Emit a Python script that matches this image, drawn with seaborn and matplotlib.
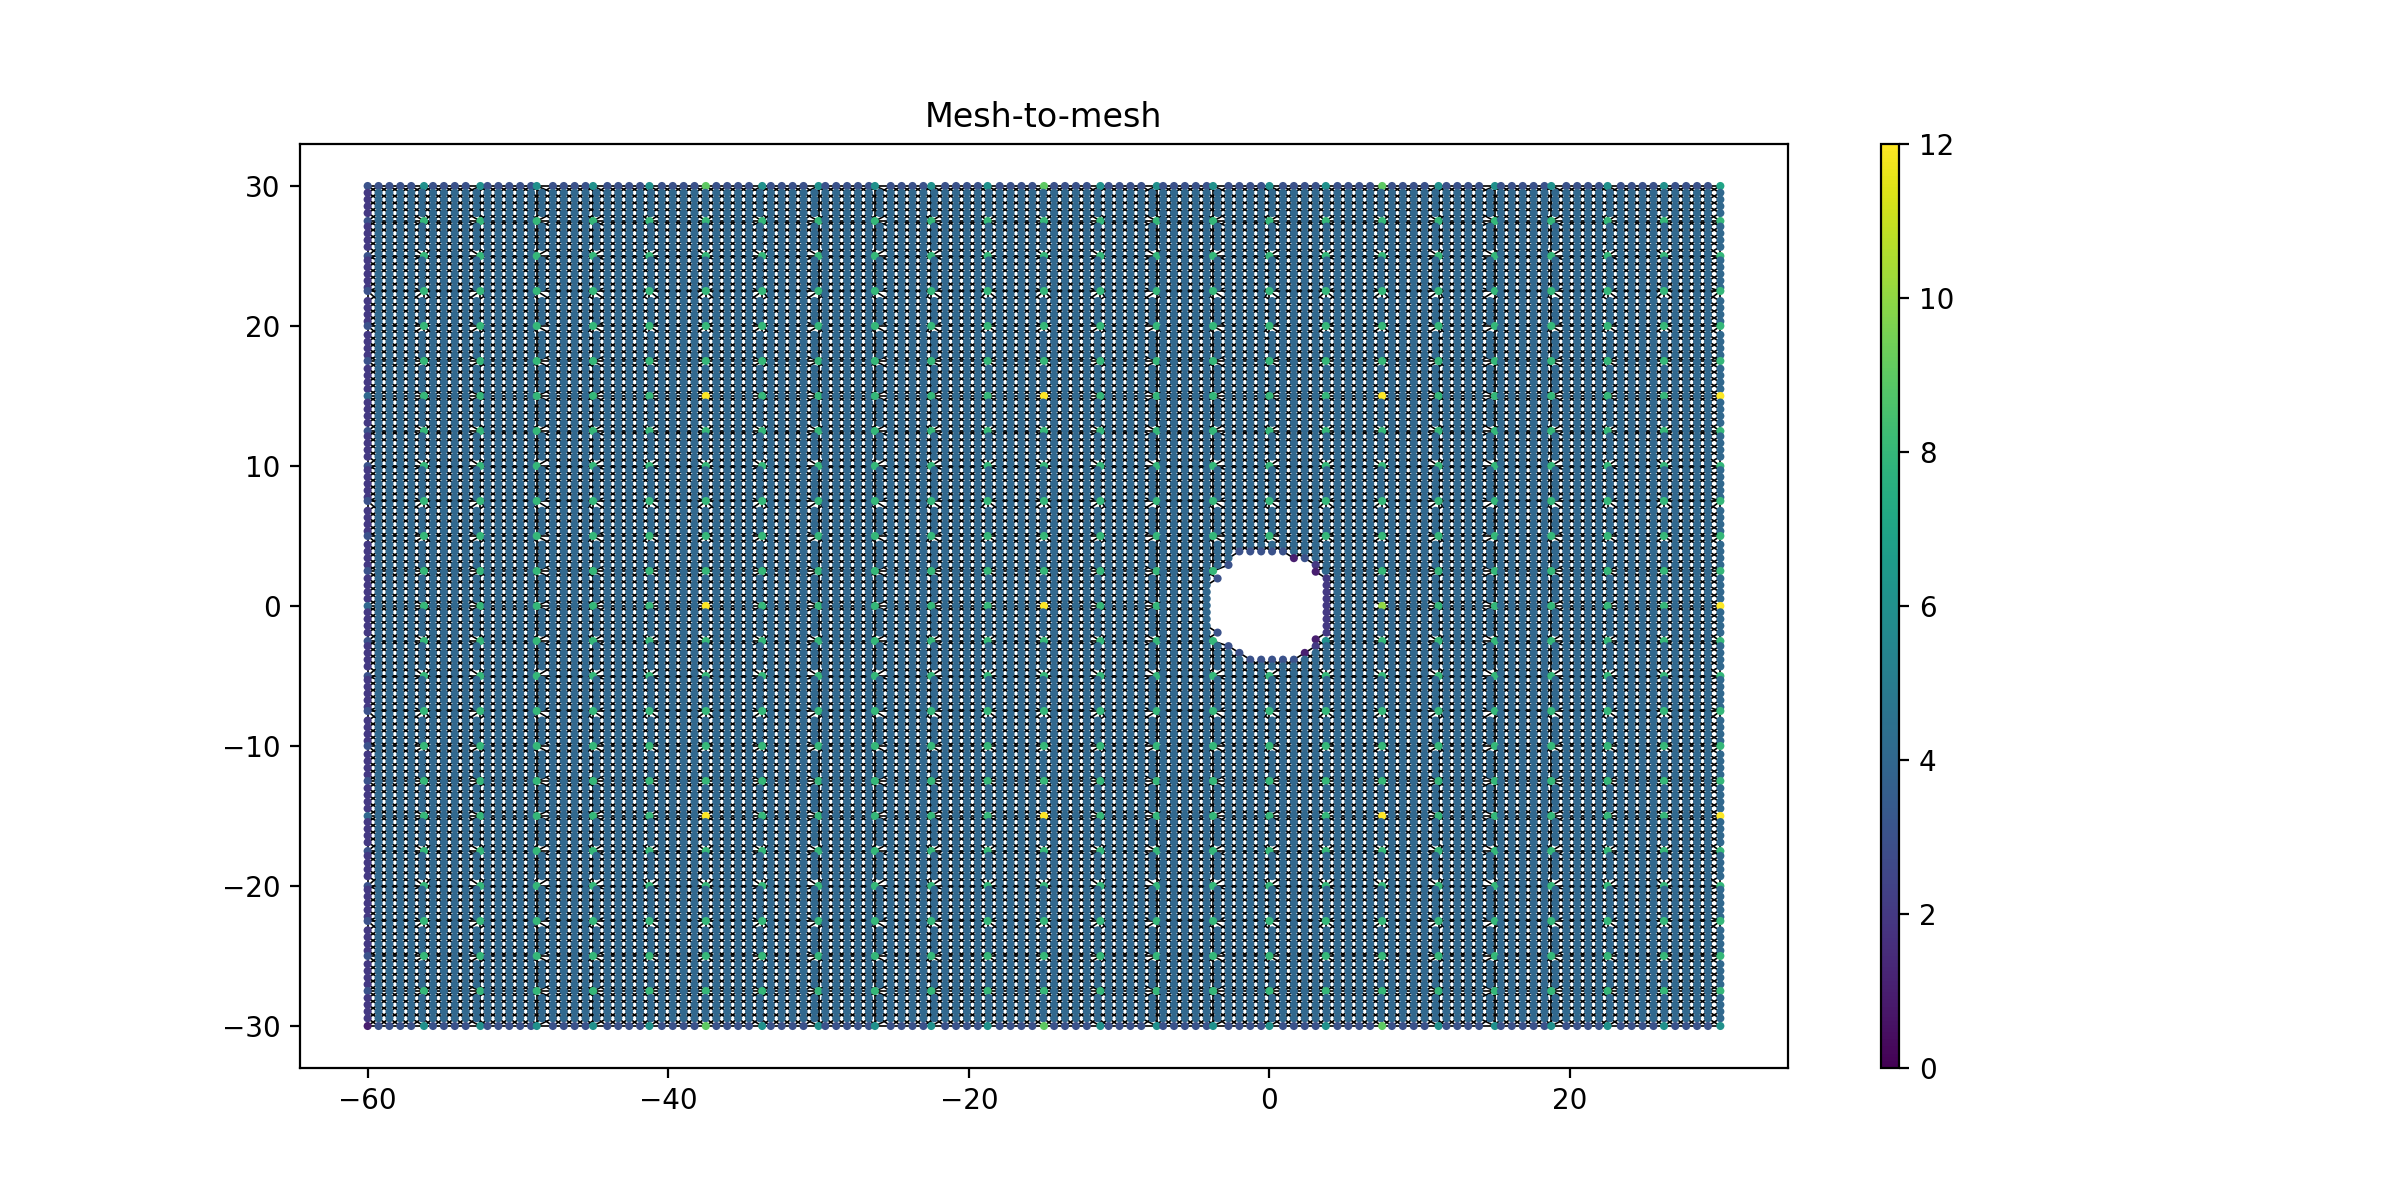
import numpy as np
import pandas as pd
import seaborn as sns
import matplotlib.pyplot as plt
from matplotlib.cm import ScalarMappable
from matplotlib.collections import LineCollection
from matplotlib.colors import Normalize

# fine mesh columns and rows
fine_x = [-60.000, -59.275, -58.550, -57.825, -57.100, -56.375, -55.650, -54.925, -54.200, -53.475,
          -52.750, -52.025, -51.300, -50.575, -49.850, -49.125, -48.400, -47.675, -46.950, -46.225,
          -45.500, -44.775, -44.050, -43.325, -42.600, -41.875, -41.150, -40.425, -39.700, -38.975,
          -38.250, -37.525, -36.800, -36.075, -35.350, -34.625, -33.900, -33.175, -32.450, -31.725,
          -31.000, -30.275, -29.550, -28.825, -28.100, -27.375, -26.650, -25.925, -25.200, -24.475,
          -23.750, -23.025, -22.300, -21.575, -20.850, -20.125, -19.400, -18.675, -17.950, -17.225,
          -16.500, -15.775, -15.050, -14.325, -13.600, -12.875, -12.150, -11.425, -10.700, -9.975,
          -9.250, -8.525, -7.800, -7.075, -6.350, -5.625, -4.900, -4.175, -3.450, -2.725,
          -2.000, -1.275, -0.550, 0.175, 0.900, 1.625, 2.350, 3.075, 3.800, 4.525,
          5.250, 5.975, 6.700, 7.425, 8.150, 8.875, 9.600, 10.325, 11.050, 11.775,
          12.500, 13.225, 13.950, 14.675, 15.400, 16.125, 16.850, 17.575, 18.300, 19.025,
          19.750, 20.475, 21.200, 21.925, 22.650, 23.375, 24.100, 24.825, 25.550, 26.275,
          27.000, 27.725, 28.450, 29.175, 30.000]
fine_y = [30.000, 29.517, 29.033, 28.550, 28.067, 27.583, 27.100, 26.617, 26.133, 25.650,
          25.167, 24.683, 24.200, 23.717, 23.233, 22.750, 22.267, 21.783, 21.300, 20.817,
          20.333, 19.850, 19.367, 18.883, 18.400, 17.917, 17.433, 16.950, 16.467, 15.983,
          15.500, 15.017, 14.533, 14.050, 13.567, 13.083, 12.600, 12.117, 11.633, 11.150,
          10.667, 10.183, 9.700, 9.217, 8.733, 8.250, 7.767, 7.283, 6.800, 6.317,
          5.833, 5.350, 4.867, 4.383, 3.900, 3.417, 2.933, 2.450, 1.967, 1.483,
          1.000, 0.517, 0.033, -0.450, -0.933, -1.417, -1.900, -2.383, -2.867, -3.350,
          -3.833, -4.317, -4.800, -5.283, -5.767, -6.250, -6.733, -7.217, -7.700, -8.183,
          -8.667, -9.150, -9.633, -10.117, -10.600, -11.083, -11.567, -12.050, -12.533, -13.017,
          -13.500, -13.983, -14.467, -14.950, -15.433, -15.917, -16.400, -16.883, -17.367, -17.850,
          -18.333, -18.817, -19.300, -19.783, -20.267, -20.750, -21.233, -21.717, -22.200, -22.683,
          -23.167, -23.650, -24.133, -24.617, -25.100, -25.583, -26.067, -26.550, -27.033, -27.517,
          -28.000, -28.483, -28.967, -29.450, -30.000]

# coarser levels sit on these lines
coarse_x = [-60, -56.25, -52.5, -48.75, -45, -41.25, -37.5, -33.75, -30, -26.25, -22.5, -18.75, -15,
            -11.25, -7.5, -3.75, 0, 3.75, 7.5, 11.25, 15, 18.75, 22.5, 26.25, 30]
coarse_y = [30, 27.5, 25, 22.5, 20, 17.5, 15, 12.5, 10, 7.5, 5, 2.5, 0,
            -2.5, -5, -7.5, -10, -12.5, -15, -17.5, -20, -22.5, -25, -27.5, -30]
top_x = [-60, -37.5, -15, 7.5, 30]
top_y = [30, 15, 0, -15, -30]

# degree each level adds: interior, left edge, top/bottom edge
level_degree = [4, 1, 3]

# hole in the mesh
hole_radius = 3.78
coarse_hole_radius = 4.3
hole_extra_x = [-2.000]
hole_extra_y = [3.417]

# nodes whose colour does not follow the edge rule
special_x = [-60, -60, 30, 30, 7.5, 3.75, 3.75]
special_y = [-30, 30, 30, -30, 0, 2.5, -2.5]
special_deg = [1, 3, 7, 6, 10, 4, 6]

cbar_ticks = [0, 2, 4, 6, 8, 10, 12]


def nearest(values, v):
    return int(np.argmin(np.abs(np.asarray(values) - v)))


n = len(fine_x)
xs, ys = np.meshgrid(fine_x, fine_y, indexing="ij")
keep = np.hypot(xs, ys) >= hole_radius
for hx, hy in zip(hole_extra_x, hole_extra_y):
    keep[nearest(fine_x, hx), nearest(fine_y, hy)] = False


def has(i, j):
    return 0 <= i < n and 0 <= j < n and keep[i, j]


def crosses_hole(p, q):
    # long edges must not run through the hole
    t = np.linspace(0, 1, 50)
    return np.hypot(p[0] + t * (q[0] - p[0]), p[1] + t * (q[1] - p[1])).min() < hole_radius


deg = np.zeros((n, n))
for i in range(n):
    for j in range(n):
        if keep[i, j]:
            d = 4
            if not has(i, j - 1) or not has(i, j + 1):
                d -= 1
            if not has(i - 1, j):
                d -= 2
            deg[i, j] = d

# fine edges are taken before the coarse nodes move, then follow them
px, py = xs.copy(), ys.copy()
levels = [(coarse_x, coarse_y), (top_x, top_y)]
level_nodes = []
for lx, ly in levels:
    nodes = {}
    for a, cx in enumerate(lx):
        for b, cy in enumerate(ly):
            i, j = nearest(fine_x, cx), nearest(fine_y, cy)
            if not keep[i, j] or np.hypot(cx, cy) < coarse_hole_radius:
                continue
            px[i, j], py[i, j] = cx, cy
            if a == 0:
                deg[i, j] += level_degree[1]
            elif b == 0 or b == len(ly) - 1:
                deg[i, j] += level_degree[2]
            else:
                deg[i, j] += level_degree[0]
            nodes[(a, b)] = (cx, cy)
    level_nodes.append(nodes)

for sx, sy, sd in zip(special_x, special_y, special_deg):
    deg[nearest(fine_x, sx), nearest(fine_y, sy)] = sd

segments = []
for i in range(n - 1):
    for j in range(n):
        if not keep[i, j]:
            continue
        if has(i + 1, j + 1):
            segments.append([(px[i, j], py[i, j]), (px[i + 1, j + 1], py[i + 1, j + 1])])
        if has(i + 1, j - 1):
            segments.append([(px[i, j], py[i, j]), (px[i + 1, j - 1], py[i + 1, j - 1])])
# top level edges run along the coarse lines, so only the coarse ones are drawn
for (a, b), p in level_nodes[0].items():
    for q in [(a + 1, b), (a, b + 1)]:
        if q in level_nodes[0] and not crosses_hole(p, level_nodes[0][q]):
            segments.append([p, level_nodes[0][q]])

df = pd.DataFrame({"x": px[keep], "y": py[keep], "degree": deg[keep]})

fig, ax = plt.subplots(figsize=(12, 6))
ax.add_collection(LineCollection(segments, colors="black", linewidths=0.6, zorder=0.5))
sns.scatterplot(data=df, x="x", y="y", hue="degree", palette="viridis", hue_norm=(0, 12),
                s=8.5, linewidth=0, legend=False, ax=ax)
ax.set_xlabel("")
ax.set_ylabel("")
ax.set_title("Mesh-to-mesh")

sm = ScalarMappable(norm=Normalize(0, 12), cmap="viridis")
cbar = fig.colorbar(sm, ax=ax, aspect=50)
cbar.set_ticks(cbar_ticks)

fig.savefig("out.png", dpi=200)
